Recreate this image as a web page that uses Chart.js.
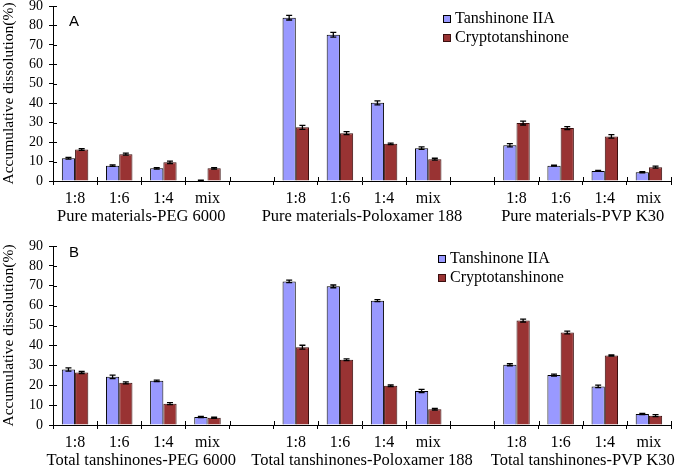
<!DOCTYPE html>
<html>
<head>
<meta charset="utf-8">
<script src="https://cdn.jsdelivr.net/npm/chart.js@4.4.0/dist/chart.umd.min.js"></script>
<style>
  html, body { margin: 0; padding: 0; background: #fff; }
  #wrap { position: relative; width: 675px; height: 468px; }
  #panelA { position: absolute; left: 0; top: 0; }
  #panelB { position: absolute; left: 0; top: 230px; }
</style>
</head>
<body>
<div id="wrap">
  <canvas id="panelA" width="675" height="230"></canvas>
  <canvas id="panelB" width="675" height="238"></canvas>
</div>
<script>
// ---- data ----
const categories = ['1:8', '1:6', '1:4', 'mix', '', '1:8', '1:6', '1:4', 'mix', '', '1:8', '1:6', '1:4', 'mix'];
const seriesNames = ['Tanshinone IIA', 'Cryptotanshinone'];

const groupsA = ['Pure materials-PEG 6000', 'Pure materials-Poloxamer 188', 'Pure materials-PVP K30'];
const groupsB = ['Total tanshinones-PEG 6000', 'Total tanshinones-Poloxamer 188', 'Total tanshinones-PVP K30'];

// panel A: pure materials
const tanshinoneA    = [11.7, 7.9, 6.5, 0.3, null, 84.0, 75.2, 40.2, 16.9, null, 18.4, 7.9, 5.2, 4.5];
const tanshinoneAErr = [0.5, 0.4, 0.4, 0.1, null, 1.2, 1.2, 1.0, 0.6, null, 0.8, 0.3, 0.3, 0.3];
const cryptoA        = [16.2, 13.8, 9.6, 6.5, null, 27.6, 24.6, 19.1, 11.2, null, 29.8, 27.2, 22.9, 7.1];
const cryptoAErr     = [0.5, 0.5, 0.6, 0.4, null, 1.0, 0.8, 0.4, 0.5, null, 1.0, 0.8, 0.9, 0.5];

// panel B: total tanshinones
const tanshinoneB    = [27.9, 24.2, 22.2, 4.0, null, 72.2, 69.7, 62.5, 17.1, null, 30.3, 25.1, 19.4, 5.5];
const tanshinoneBErr = [0.8, 0.9, 0.4, 0.3, null, 0.6, 0.7, 0.5, 0.8, null, 0.5, 0.5, 0.6, 0.3];
const cryptoB        = [26.4, 21.2, 10.7, 3.7, null, 39.1, 32.8, 19.7, 7.9, null, 52.5, 46.5, 34.9, 4.7];
const cryptoBErr     = [0.5, 0.5, 0.5, 0.3, null, 1.0, 0.4, 0.4, 0.4, null, 0.7, 0.7, 0.3, 0.5];

const yMin = 0, yMax = 90, yStep = 10;

// ---- styling ----
const SERIF = "'Liberation Serif', 'Times New Roman', serif";
const SANS = "'Liberation Sans', Arial, sans-serif";
const BLUE = '#9999ff';
const RED = '#993333';

// error bars, crossing tick marks, group captions, panel tag and legend
const decorPlugin = {
  id: 'decor',
  afterDatasetsDraw(chart) {
    const ctx = chart.ctx;
    const y = chart.scales.y;
    ctx.save();
    ctx.strokeStyle = '#000';
    ctx.lineWidth = 1.3;
    chart.data.datasets.forEach((ds, i) => {
      const meta = chart.getDatasetMeta(i);
      meta.data.forEach((bar, j) => {
        const v = ds.data[j];
        const e = ds.errors[j];
        if (v == null || !e) return;
        const yTop = y.getPixelForValue(v + e);
        const yBot = y.getPixelForValue(Math.max(0, v - e));
        ctx.beginPath();
        ctx.moveTo(bar.x, yTop); ctx.lineTo(bar.x, yBot);
        ctx.moveTo(bar.x - 3, yTop); ctx.lineTo(bar.x + 3, yTop);
        ctx.moveTo(bar.x - 3, yBot); ctx.lineTo(bar.x + 3, yBot);
        ctx.stroke();
      });
    });
    ctx.restore();
  },
  afterDraw(chart) {
    const ctx = chart.ctx;
    const opts = chart.options.plugins.decor;
    const area = chart.chartArea;
    const x = chart.scales.x;
    const y = chart.scales.y;
    ctx.save();

    // inner half of the tick marks
    ctx.strokeStyle = '#000';
    ctx.lineWidth = 1;
    y.ticks.forEach((t, i) => {
      const py = Math.round(y.getPixelForTick(i)) + 0.5;
      ctx.beginPath(); ctx.moveTo(area.left, py); ctx.lineTo(area.left + 4, py); ctx.stroke();
    });
    for (let i = 1; i <= categories.length; i++) {
      const px = Math.round(x.getPixelForValue(i - 0.5)) + 0.5;
      ctx.beginPath(); ctx.moveTo(px, area.bottom); ctx.lineTo(px, area.bottom - 4); ctx.stroke();
    }

    // group captions under each block of four ratios
    ctx.fillStyle = '#000';
    ctx.font = '16.5px ' + SERIF;
    ctx.textAlign = 'center';
    ctx.textBaseline = 'middle';
    opts.groups.forEach((g, k) => {
      const cx = (x.getPixelForValue(k * 5) + x.getPixelForValue(k * 5 + 3)) / 2;
      ctx.fillText(g, cx, area.bottom + opts.groupOffset);
    });

    // panel tag
    ctx.font = '15px ' + SANS;
    ctx.textAlign = 'left';
    ctx.fillText(opts.tag, opts.tagX, opts.tagY);

    // legend
    ctx.font = '16px ' + SERIF;
    chart.data.datasets.forEach((ds, i) => {
      const ly = opts.legendY + i * opts.legendGap;
      ctx.fillStyle = ds.backgroundColor;
      ctx.fillRect(opts.legendX, ly - 4, 8, 8);
      ctx.strokeStyle = ds.borderColor;
      ctx.strokeRect(opts.legendX + 0.5, ly - 3.5, 7, 7);
      ctx.fillStyle = '#000';
      ctx.fillText(ds.label, opts.legendX + 12, ly);
    });
    ctx.restore();
  }
};

function makePanel(canvasId, tag, groups, blue, blueErr, red, redErr, layout) {
  const canvas = document.getElementById(canvasId);
  return new Chart(canvas, {
    type: 'bar',
    data: {
      labels: categories,
      datasets: [
        {
          label: seriesNames[0], data: blue, errors: blueErr,
          backgroundColor: BLUE, borderColor: '#000', borderWidth: 1,
          categoryPercentage: 0.6, barPercentage: 1.0
        },
        {
          label: seriesNames[1], data: red, errors: redErr,
          backgroundColor: RED, borderColor: '#3a0f0f', borderWidth: 1,
          categoryPercentage: 0.6, barPercentage: 1.0
        }
      ]
    },
    options: {
      responsive: false,
      animation: false,
      layout: { padding: { top: layout.top, right: 4, left: 0, bottom: 0 } },
      plugins: {
        legend: { display: false },
        tooltip: { enabled: false },
        decor: {
          tag: tag, tagX: 69, tagY: layout.tagY,
          groups: groups, groupOffset: 36,
          legendX: layout.legendX, legendY: layout.legendY, legendGap: 19
        }
      },
      scales: {
        x: {
          grid: { display: true, drawOnChartArea: false, offset: true, tickLength: 4, color: '#000' },
          border: { display: true, color: '#000', width: 1 },
          ticks: { color: '#000', padding: 4, maxRotation: 0, autoSkip: false, font: { family: SERIF, size: 16 } },
          afterFit: (s) => { s.height = layout.xHeight; }
        },
        y: {
          min: yMin, max: yMax,
          grid: { display: true, drawOnChartArea: false, tickLength: 4, color: '#000' },
          border: { display: true, color: '#000', width: 1 },
          ticks: { stepSize: yStep, autoSkip: false, color: '#000', padding: 6, font: { family: SERIF, size: 14 } },
          title: {
            display: true, text: 'Accumulative dissolution(%)', color: '#000',
            padding: { top: 0, bottom: 0 },
            font: { family: SERIF, size: 15.5 }
          },
          afterFit: (s) => { s.width = 53; s.paddingTop = 0; s.paddingBottom = 0; }
        }
      }
    },
    plugins: [decorPlugin]
  });
}

makePanel('panelA', 'A', groupsA, tanshinoneA, tanshinoneAErr, cryptoA, cryptoAErr,
  { top: 6, xHeight: 49, tagY: 22, legendX: 443, legendY: 19 });
makePanel('panelB', 'B', groupsB, tanshinoneB, tanshinoneBErr, cryptoB, cryptoBErr,
  { top: 16, xHeight: 43, tagY: 23, legendX: 438, legendY: 29 });
</script>
</body>
</html>
